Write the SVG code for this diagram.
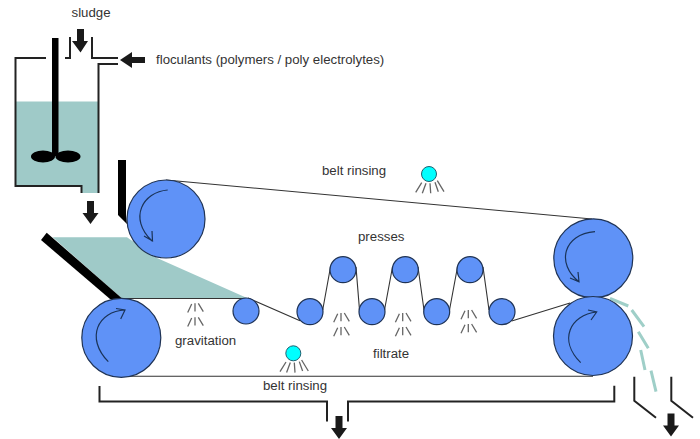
<svg xmlns="http://www.w3.org/2000/svg" width="700" height="439" viewBox="0 0 700 439">
<style>
text{font-family:"Liberation Sans",Arial,sans-serif;font-size:13.25px;fill:#333}
.roll{fill:#5f92f7;stroke:#1f3355;stroke-width:1.2}
.belt{fill:none;stroke:#333;stroke-width:1.1}
.wall{fill:none;stroke:#222;stroke-width:2}
.teal{fill:#9fcac8}
.black{fill:#000}
.block{fill:#1a1a1a}
.rot{fill:none;stroke:#1a3358;stroke-width:1.2}
.ray{fill:none;stroke:#666;stroke-width:1.3}
.spray{fill:#0ff;stroke:#1f6070;stroke-width:1}
.dash{fill:none;stroke:#9fcfc8;stroke-width:3}
</style>
<defs>
<g id="drops"><path class="ray" d="M-3.3 .7-7.3 9.3M0 0V8.3M3.3 0 8.3 8.3M-3.3 14.7-7.3 23.3M0 14V22.3M3.3 14 8.3 22.3"/></g>
<g id="rays"><path class="ray" d="M-7.3 8.7-13.3 18.3M-3 9.3-6.7 19.3M1 9.3 1.700 19.3M6 8.3 9.3 17.7M8.3 6.700 15 17.7"/></g>
<path id="down" class="block" d="M-3.500 0H3.500V12H8L0 23-8 12H-3.500Z"/>
</defs>
<rect width="700" height="439" fill="#fff"/>
<g id="tank">
<path class="teal" d="M16 101.500H98V193H82V186H16Z"/>
<path class="wall" d="M46 58H15.500V186H81.500V193M98.500 193V64H118M118 58H92V37M70 37V58H65"/>
<rect class="black" x="52" y="38" width="6.500" height="118"/>
<ellipse class="black" cx="43" cy="156.500" rx="12" ry="6"/>
<ellipse class="black" cx="68" cy="156.500" rx="12.500" ry="6"/>
</g>
<g id="sludge-input">
<path class="block" d="M77 29H84V41H88L80.500 52.500 72 41H77Z"/>
<text x="71.500" y="17">sludge</text>
</g>
<g id="floculants-input">
<path class="block" d="M145 57V63H132V68L120 60 132 52V57Z"/>
<text x="156" y="64">floculants (polymers / poly electrolytes)</text>
</g>
<g id="tank-outlet"><use href="#down" x="90.500" y="201"/></g>
<g id="sludge-bed">
<path class="teal" d="M52.700 237.300H127L157 258 247 298 122 298.500Z"/>
<path class="black" d="M46.700 232.700 41 240 110 299H122.700Z"/>
<path class="black" d="M118 160H126V215L127 224 118 215Z"/>
</g>
<g id="connectors">
<path class="belt" d="M166 180 592 219M121 298.500H246M248 298 300 320.700M322.700 310 330.500 267M356 267 359.500 310M384.500 310 392.500 267M418 267 424 310M449.500 310 457.500 267M483 267 489 310M511.700 321 570 303M121 376.300H593"/>
<path class="wall" d="M99.500 386V401.500H327V421.500M348 421.500V401.500H614.300V385.700M634.300 376.700V400.700L656 417.700M671.300 376.700V400.700L693 417.700"/>
<path class="dash" d="M610 298.300 628.300 306M631.700 310 644 326.700M638.300 331.700 648.300 348.300M640.700 350 645 370M651 370.700 656 391.700"/>
</g>
<g id="roller-top-left"><circle class="roll" cx="166" cy="219" r="39"/><path class="rot" d="M167.700 190C143 192 128 218 152 241M152 231 152.500 241 144 236"/></g>
<g id="roller-bottom-left"><circle class="roll" cx="121.300" cy="337.800" r="39.500"/><path class="rot" d="M108.300 361.700C85 338 98 311 125 310M116 308.500 125 310 120.700 319"/></g>
<g id="roller-top-right"><circle class="roll" cx="593.300" cy="258.300" r="39.500"/><path class="rot" d="M595 231.700C563 234 556 264 579 281.700M578 272 579 281.700 570 278"/></g>
<g id="roller-bottom-right"><circle class="roll" cx="593" cy="336" r="39.500"/><path class="rot" d="M580.700 362.700C558 340 570 315 596.700 312M588 310 596.700 312 591 320"/></g>
<g id="roller-small"><circle class="roll" cx="246" cy="311" r="13"/></g>
<g id="press-1"><circle class="roll" cx="310" cy="311.700" r="13"/></g>
<g id="press-2"><circle class="roll" cx="343" cy="269.700" r="13"/></g>
<g id="press-3"><circle class="roll" cx="372" cy="311.700" r="13"/></g>
<g id="press-4"><circle class="roll" cx="405.300" cy="269.700" r="13"/></g>
<g id="press-5"><circle class="roll" cx="436.700" cy="311.700" r="13"/></g>
<g id="press-6"><circle class="roll" cx="470" cy="269.700" r="13"/></g>
<g id="press-7"><circle class="roll" cx="502" cy="311.700" r="13"/></g>
<g id="spray-top"><circle class="spray" cx="429" cy="174" r="7.500"/><use href="#rays" x="429" y="174"/><text x="322" y="175">belt rinsing</text></g>
<g id="spray-bottom"><circle class="spray" cx="293.300" cy="353.300" r="7.500"/><use href="#rays" x="293.300" y="353.300"/><text x="263" y="390">belt rinsing</text></g>
<g id="gravitation"><use href="#drops" x="195" y="303.300"/><text x="175" y="345">gravitation</text></g>
<g id="filtrate"><use href="#drops" x="341" y="313"/><use href="#drops" x="402.700" y="313"/><use href="#drops" x="468.300" y="310"/><text x="373" y="358">filtrate</text></g>
<g id="presses-label"><text x="358" y="241">presses</text></g>
<g id="discharge"><use href="#down" x="339" y="416"/><use href="#down" x="671" y="413.500"/></g>
</svg>
